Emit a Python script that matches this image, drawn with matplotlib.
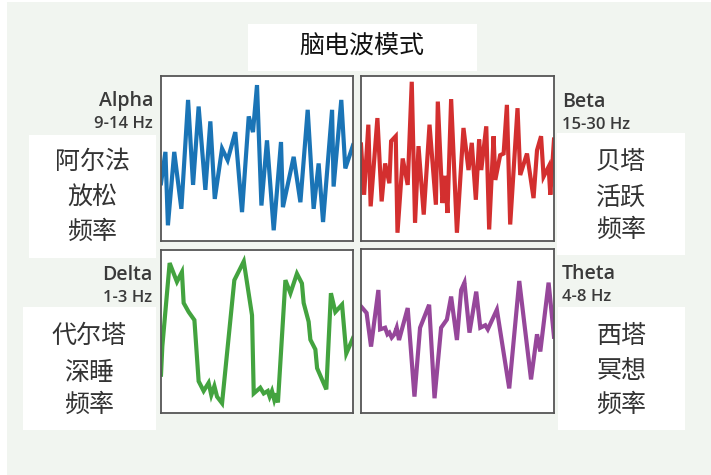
import matplotlib
matplotlib.use("Agg")
import matplotlib.pyplot as plt
from matplotlib.patches import Rectangle

plt.rcParams['font.family'] = ['Noto Sans CJK SC', 'DejaVu Sans']

W, H = 711, 475

title = "脑电波模式"

# wave readings: time (0-100 across the panel) and amplitude (-100..100)
alpha_t = [0, 2.3, 3.6, 6.9, 10.6, 14.1, 16.7, 19.6, 23.1, 25.7, 28.0, 31.8, 34.7, 38.7,
           42.2, 45.7, 47.9, 50.0, 52.3, 55.2, 58.7, 62.5, 63.5, 69.1, 72.6, 76.4, 79.5,
           82.1, 84.4, 89.1, 89.9, 93.9, 96.0, 100]
alpha_v = [-30, 8, -81, 8, -61, 71, -32, 63, -38, 45, -49, 12, -2, 32,
           -65, 51, 32, 89, -57, 22, -87, 20, -59, 2, -53, 59, -61,
           -6, -77, 59, -34, 71, -12, 16]

beta_t = [0, 1.6, 3.8, 5.0, 8.5, 10.7, 12.5, 14.7, 15.6, 18.0, 18.9, 21.6, 24.2, 26.3,
          28.0, 29.8, 32.5, 35.5, 38.8, 39.8, 42.2, 43.6, 44.8, 46.7, 49.7, 53.1, 55.7,
          57.4, 59.5, 61.2, 62.3, 64.9, 66.4, 68.7, 69.6, 72.1, 73.9, 75.6, 77.3, 81.1,
          82.5, 86.0, 89.4, 91.2, 93.3, 94.6, 97.2, 98.1, 100]
beta_v = [17, -44, 41, -58, 49, -52, -6, -30, 21, 27, -90, 0, -32, 93,
          -78, 15, -68, 41, -56, 69, -54, -21, -66, 72, -90, 37, -14,
          19, -50, 23, -14, 39, -86, 27, -26, 4, 6, 65, -80, 61,
          -20, 6, -48, 10, 27, -22, -10, -44, 23]

delta_t = [0, 0.7, 4.5, 8.3, 10.9, 11.8, 14.4, 17.4, 19.6, 22.2, 24.8, 26.2, 27.8, 29.2,
           31.8, 38.2, 43.1, 47.4, 48.3, 51.7, 53.5, 55.6, 56.6, 57.8, 59.0, 60.1, 60.9,
           64.8, 67.4, 70.8, 73.4, 74.3, 76.9, 77.8, 80.4, 81.3, 86.1, 88.5, 90.8, 94.3,
           96.5, 100]
delta_v = [-53, -18, 84, 61, 73, 35, 24, 14, -61, -73, -63, -78, -67, -80,
           -88, 63, 86, 20, -76, -69, -76, -73, -80, -73, -84, -76, -87,
           63, 47, 71, 59, 35, 12, -10, -22, -45, -71, 47, 24, 33,
           -27, -8]

theta_t = [0, 2.9, 5.2, 9.0, 9.9, 12.5, 13.7, 14.7, 15.9, 17.3, 18.5, 19.7, 24.2, 27.7,
           30.6, 35.3, 38.1, 41.5, 44.5, 46.7, 49.7, 51.9, 53.6, 56.2, 59.7, 61.8, 64.4,
           65.7, 70.4, 76.8, 82.0, 88.1, 91.2, 92.9, 97.2, 100]
theta_v = [30, 22, -19, 50, 2, 4, -4, -2, -8, -4, 4, -11, 28, -80,
           4, 32, -82, 4, 14, 42, -11, 50, 59, -2, 48, 4, 7,
           2, 26, -70, 61, -59, -4, -25, 59, -7]

band_names = ["Alpha", "Beta", "Delta", "Theta"]
band_ranges = ["9-14 Hz", "15-30 Hz", "1-3 Hz", "4-8 Hz"]
band_labels = [["阿尔法", "放松", "频率"],
               ["贝塔", "活跃", "频率"],
               ["代尔塔", "深睡", "频率"],
               ["西塔", "冥想", "频率"]]
series = [(alpha_t, alpha_v), (beta_t, beta_v), (delta_t, delta_v), (theta_t, theta_v)]
colors = ["#1a74b6", "#d32f2f", "#43a33f", "#96479a"]

# layout in pixels (left, top, right, bottom)
panels = [(161, 76, 353, 241), (361, 76, 554, 241), (161, 250, 353, 413), (361, 249, 554, 413)]
boxes = [(29, 135, 156, 258), (557, 133, 685, 255), (23, 307, 156, 430), (558, 307, 685, 430)]
name_pos = [(153, 101, "right"), (562, 102, "left"), (152, 275, "right"), (562, 274, "left")]
line_x = [92, 621, 89, 621]
line_y = [(162, 198, 232), (162, 198, 230), (336, 373, 405), (336, 371, 405)]


def fx(x):
    return x / W


def fy(y):
    return 1 - y / H


def add_box(l, t, r, b, color):
    fig.patches.append(Rectangle((fx(l), fy(b)), (r - l) / W, (b - t) / H,
                                 transform=fig.transFigure, facecolor=color,
                                 edgecolor="none", zorder=-10))


fig = plt.figure(figsize=(W / 100, H / 100), dpi=100)
fig.patch.set_facecolor("white")
add_box(7, 2, 711, 475, "#f1f5f0")

# title box
add_box(248, 24, 477, 71, "white")
fig.text(fx(362), fy(47), title, ha="center", va="center", fontsize=18,
         fontweight="medium", color="#111111")

for i in range(4):
    l, t, r, b = panels[i]
    ax = fig.add_axes([fx(l), fy(b), (r - l) / W, (b - t) / H])
    ax.set_zorder(5)
    ax.plot(series[i][0], series[i][1], color=colors[i], lw=3, solid_joinstyle="miter")
    ax.set_xlim(0, 100)
    ax.set_ylim(-100, 100)
    ax.set_xticks([])
    ax.set_yticks([])
    ax.set_facecolor("white")
    for s in ax.spines.values():
        s.set_color("#555555")
        s.set_linewidth(1.3)

    bl, bt, br, bb = boxes[i]
    add_box(bl, bt, br, bb, "white")

    nx, ny, ha = name_pos[i]
    fig.text(fx(nx), fy(ny), band_names[i], ha=ha, va="center", fontsize=14,
             family="Open Sans", fontweight="semibold", color="#3a3a3a")
    fig.text(fx(nx), fy(ny + 23), band_ranges[i], ha=ha, va="center", fontsize=12,
             family="Open Sans", fontweight="semibold", color="#3a3a3a")

    for k in range(3):
        fig.text(fx(line_x[i]), fy(line_y[i][k]), band_labels[i][k], ha="center",
                 va="center", fontsize=18, color="#333333", fontweight="light")

fig.savefig("out.png", dpi=100)
